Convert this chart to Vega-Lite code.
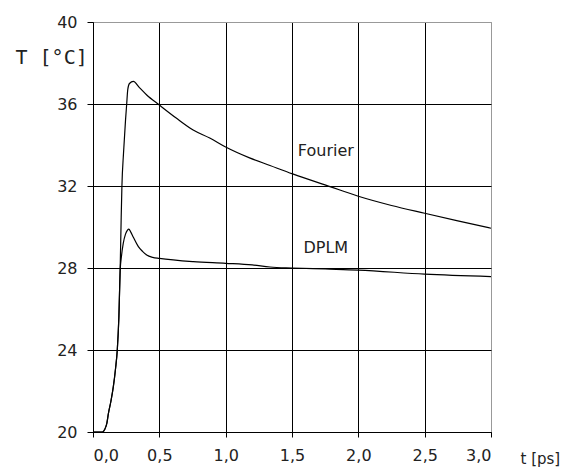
{
  "$schema": "https://vega.github.io/schema/vega-lite/v6.json",
  "width": 398,
  "height": 410,
  "autosize": {"type": "none"},
  "padding": {"left": 93, "top": 22, "right": 87, "bottom": 39},
  "background": "white",
  "config": {
    "view": {"stroke": "#999999", "strokeWidth": 1},
    "axis": {
      "labelFont": "DejaVu Sans",
      "labelFontSize": 16,
      "labelColor": "#222222",
      "domainColor": "black",
      "tickColor": "black",
      "gridColor": "black",
      "gridOpacity": 1,
      "domainWidth": 1,
      "tickWidth": 1,
      "gridWidth": 1
    }
  },
  "datasets": {
    "curves": [
      {"series": "Fourier", "t": 0.0, "T": 20.0},
      {"series": "Fourier", "t": 0.07, "T": 20.0},
      {"series": "Fourier", "t": 0.09, "T": 20.15},
      {"series": "Fourier", "t": 0.105, "T": 20.45},
      {"series": "Fourier", "t": 0.116, "T": 20.9},
      {"series": "Fourier", "t": 0.135, "T": 21.5},
      {"series": "Fourier", "t": 0.153, "T": 22.2},
      {"series": "Fourier", "t": 0.17, "T": 23.1},
      {"series": "Fourier", "t": 0.183, "T": 24.0},
      {"series": "Fourier", "t": 0.195, "T": 25.6},
      {"series": "Fourier", "t": 0.205, "T": 28.0},
      {"series": "Fourier", "t": 0.212, "T": 30.3},
      {"series": "Fourier", "t": 0.218, "T": 32.0},
      {"series": "Fourier", "t": 0.23, "T": 33.6},
      {"series": "Fourier", "t": 0.245, "T": 35.2},
      {"series": "Fourier", "t": 0.254, "T": 36.0},
      {"series": "Fourier", "t": 0.262, "T": 36.7},
      {"series": "Fourier", "t": 0.275, "T": 37.0},
      {"series": "Fourier", "t": 0.304, "T": 37.1},
      {"series": "Fourier", "t": 0.35, "T": 36.8},
      {"series": "Fourier", "t": 0.405, "T": 36.44},
      {"series": "Fourier", "t": 0.5, "T": 35.95},
      {"series": "Fourier", "t": 0.63, "T": 35.3},
      {"series": "Fourier", "t": 0.755, "T": 34.73},
      {"series": "Fourier", "t": 0.88, "T": 34.34},
      {"series": "Fourier", "t": 1.0, "T": 33.9},
      {"series": "Fourier", "t": 1.18, "T": 33.37},
      {"series": "Fourier", "t": 1.334, "T": 33.0},
      {"series": "Fourier", "t": 1.505, "T": 32.59},
      {"series": "Fourier", "t": 1.786, "T": 31.97},
      {"series": "Fourier", "t": 2.0, "T": 31.5},
      {"series": "Fourier", "t": 2.25, "T": 31.05},
      {"series": "Fourier", "t": 2.5, "T": 30.67},
      {"series": "Fourier", "t": 2.75, "T": 30.3},
      {"series": "Fourier", "t": 3.0, "T": 29.94},
      {"series": "DPLM", "t": 0.0, "T": 20.0},
      {"series": "DPLM", "t": 0.07, "T": 20.0},
      {"series": "DPLM", "t": 0.09, "T": 20.15},
      {"series": "DPLM", "t": 0.105, "T": 20.45},
      {"series": "DPLM", "t": 0.116, "T": 20.9},
      {"series": "DPLM", "t": 0.135, "T": 21.5},
      {"series": "DPLM", "t": 0.153, "T": 22.2},
      {"series": "DPLM", "t": 0.17, "T": 23.1},
      {"series": "DPLM", "t": 0.183, "T": 24.0},
      {"series": "DPLM", "t": 0.195, "T": 25.6},
      {"series": "DPLM", "t": 0.205, "T": 27.9},
      {"series": "DPLM", "t": 0.215, "T": 28.6},
      {"series": "DPLM", "t": 0.228, "T": 29.2},
      {"series": "DPLM", "t": 0.245, "T": 29.65},
      {"series": "DPLM", "t": 0.26, "T": 29.85},
      {"series": "DPLM", "t": 0.27, "T": 29.9},
      {"series": "DPLM", "t": 0.285, "T": 29.75},
      {"series": "DPLM", "t": 0.304, "T": 29.5},
      {"series": "DPLM", "t": 0.342, "T": 29.04},
      {"series": "DPLM", "t": 0.375, "T": 28.8},
      {"series": "DPLM", "t": 0.405, "T": 28.63},
      {"series": "DPLM", "t": 0.45, "T": 28.52},
      {"series": "DPLM", "t": 0.5, "T": 28.47},
      {"series": "DPLM", "t": 0.756, "T": 28.31},
      {"series": "DPLM", "t": 1.0, "T": 28.23},
      {"series": "DPLM", "t": 1.2, "T": 28.15},
      {"series": "DPLM", "t": 1.334, "T": 28.05},
      {"series": "DPLM", "t": 1.5, "T": 28.0},
      {"series": "DPLM", "t": 1.75, "T": 27.95},
      {"series": "DPLM", "t": 2.0, "T": 27.9},
      {"series": "DPLM", "t": 2.5, "T": 27.7},
      {"series": "DPLM", "t": 3.0, "T": 27.58}
    ],
    "labels": [
      {"label": "Fourier", "t": 1.755, "T": 33.7},
      {"label": "DPLM", "t": 1.755, "T": 29.0}
    ]
  },
  "layer": [
    {
      "data": {"name": "curves"},
      "mark": {"type": "line", "color": "black", "strokeWidth": 1.2, "interpolate": "monotone"},
      "encoding": {
        "x": {
          "field": "t",
          "type": "quantitative",
          "scale": {"domain": [0, 3], "nice": false, "zero": false},
          "axis": {
            "values": [0, 0.5, 1, 1.5, 2, 2.5, 3],
            "labelExpr": "replace(format(datum.value, '.1f'), '.', ',')",
            "tickSize": 5,
            "labelPadding": 10,
            "grid": true,
            "gridColor": {"condition": {"test": "datum.value === 3", "value": "#999999"}, "value": "black"},
            "title": "t [ps]",
            "titleFont": "DejaVu Sans",
            "titleFontSize": 15,
            "titleFontWeight": "normal",
            "titleColor": "#222222",
            "titleAlign": "left",
            "titleBaseline": "middle",
            "titleAnchor": "start",
            "titleX": 427,
            "titleY": 26
          }
        },
        "y": {
          "field": "T",
          "type": "quantitative",
          "scale": {"domain": [20, 40], "nice": false, "zero": false},
          "axis": {
            "values": [20, 24, 28, 32, 36, 40],
            "tickSize": 6,
            "labelPadding": 10,
            "grid": true,
            "gridColor": {"condition": {"test": "datum.value === 40", "value": "#999999"}, "value": "black"},
            "title": "T [°C]",
            "titleFont": "DejaVu Sans Mono",
            "titleFontSize": 20,
            "titleFontWeight": "normal",
            "titleColor": "#222222",
            "titleAngle": 0,
            "titleAlign": "left",
            "titleBaseline": "middle",
            "titleAnchor": "start",
            "titleX": -78,
            "titleY": 35
          }
        },
        "detail": {"field": "series", "type": "nominal"}
      }
    },
    {
      "data": {"name": "labels"},
      "mark": {"type": "text", "font": "DejaVu Sans", "fontSize": 16, "color": "#222222", "align": "center", "baseline": "middle"},
      "encoding": {
        "x": {"field": "t", "type": "quantitative"},
        "y": {"field": "T", "type": "quantitative"},
        "text": {"field": "label", "type": "nominal"}
      }
    }
  ]
}
